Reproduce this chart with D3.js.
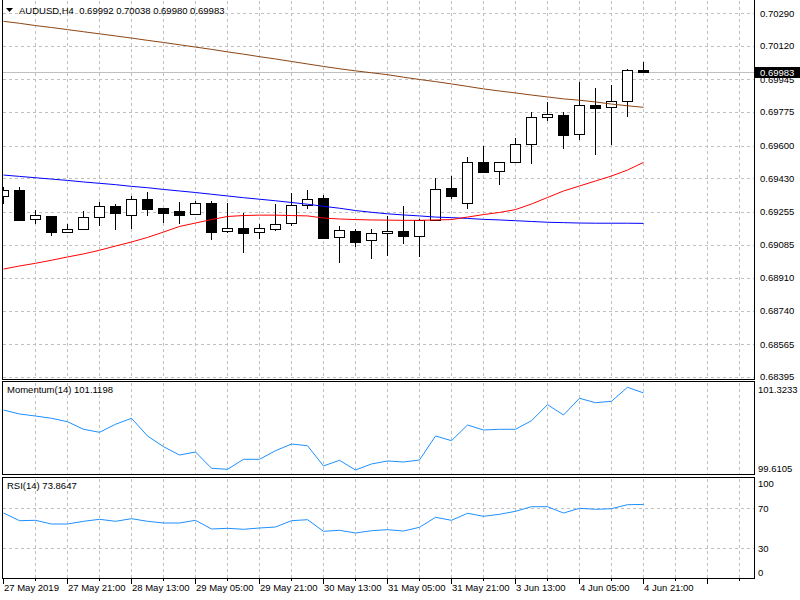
<!DOCTYPE html>
<html lang="en">
<head>
<meta charset="UTF-8">
<title>AUDUSD,H4</title>
<style>
  body { margin: 0; background: #fff; }
  svg { display: block; }
  text { font-family: "Liberation Sans", Arial, sans-serif; font-size: 9.5px; fill: #000; }
</style>
</head>
<body>
<svg id="chart" width="800" height="600"></svg>
<script src="https://d3js.org/d3.v7.min.js"></script>
<script>
// ---- data (H4 bars, 27 May 2019 .. 4 Jun 2019 21:00) ----
const open = [0.69338,0.69369,0.69216,0.69234,0.69152,0.69167,0.69227,0.69286,0.69240,0.69322,
  0.69275,0.69261,0.69242,0.69303,0.69154,0.69169,0.69149,0.69164,0.69196,0.69292,
  0.69326,0.69123,0.69155,0.69107,0.69143,0.69154,0.69131,0.69211,0.69380,0.69300,
  0.69513,0.69467,0.69513,0.69607,0.69748,0.69760,0.69659,0.69812,0.69800,0.69831,0.69992];
const high = [0.69385,0.69386,0.69265,0.69236,0.69192,0.69261,0.69308,0.69296,0.69338,0.69357,
  0.69277,0.69308,0.69312,0.69312,0.69300,0.69248,0.69192,0.69296,0.69352,0.69369,
  0.69343,0.69181,0.69164,0.69164,0.69234,0.69286,0.69216,0.69432,0.69442,0.69541,
  0.69598,0.69515,0.69640,0.69776,0.69828,0.69776,0.69932,0.69901,0.69918,0.70000,0.70038];
const low = [0.69296,0.69210,0.69192,0.69129,0.69143,0.69165,0.69181,0.69161,0.69167,0.69234,
  0.69199,0.69192,0.69240,0.69108,0.69143,0.69042,0.69115,0.69157,0.69181,0.69272,
  0.69117,0.68987,0.69070,0.69008,0.69025,0.69088,0.69021,0.69210,0.69324,0.69272,
  0.69459,0.69397,0.69511,0.69506,0.69729,0.69584,0.69630,0.69552,0.69604,0.69751,0.69980];
const close = [0.69369,0.69213,0.69239,0.69152,0.69166,0.69227,0.69286,0.69248,0.69321,0.69272,
  0.69248,0.69240,0.69301,0.69152,0.69171,0.69143,0.69169,0.69192,0.69289,0.69324,
  0.69119,0.69161,0.69100,0.69143,0.69157,0.69131,0.69211,0.69374,0.69339,0.69513,
  0.69464,0.69513,0.69607,0.69748,0.69764,0.69657,0.69812,0.69798,0.69831,0.69995,0.69983];

// moving averages
const maBrown = [0.70248,0.70238,0.70226,0.70216,0.70205,0.70194,0.70183,0.70172,0.70161,0.70149,
  0.70138,0.70126,0.70114,0.70102,0.70089,0.70077,0.70064,0.70052,0.70039,0.70026,
  0.70013,0.70001,0.69990,0.69980,0.69970,0.69957,0.69945,0.69934,0.69922,0.69909,
  0.69896,0.69885,0.69875,0.69864,0.69854,0.69844,0.69837,0.69828,0.69817,0.69808,0.69800];
const maBlue = [0.69447,0.69440,0.69433,0.69426,0.69419,0.69411,0.69404,0.69397,0.69388,0.69381,
  0.69372,0.69364,0.69356,0.69347,0.69338,0.69329,0.69321,0.69313,0.69304,0.69295,
  0.69284,0.69274,0.69262,0.69253,0.69245,0.69239,0.69234,0.69228,0.69225,0.69221,
  0.69216,0.69213,0.69209,0.69205,0.69201,0.69199,0.69197,0.69196,0.69196,0.69196,0.69195];
const maRed = [0.68957,0.68973,0.68987,0.69003,0.69020,0.69036,0.69055,0.69077,0.69098,0.69122,
  0.69150,0.69179,0.69197,0.69215,0.69231,0.69236,0.69238,0.69238,0.69236,0.69234,
  0.69223,0.69218,0.69215,0.69213,0.69212,0.69211,0.69211,0.69213,0.69215,0.69228,
  0.69241,0.69252,0.69267,0.69296,0.69330,0.69364,0.69390,0.69416,0.69442,0.69473,0.69513];

const momentum = [100.802,100.728,100.690,100.648,100.584,100.443,100.387,100.536,100.648,100.318,
  100.119,99.964,100.020,99.717,99.698,99.884,99.884,100.044,100.169,100.137,
  99.760,99.866,99.685,99.797,99.853,99.834,99.871,100.318,100.231,100.523,
  100.430,100.443,100.443,100.603,100.901,100.709,101.020,100.938,100.964,101.225,101.1198];
const rsi = [65.3,57.6,58.0,54.3,54.3,57.0,59.0,57.0,59.6,57.0,
  55.3,55.3,58.0,49.3,50.0,49.0,50.3,51.3,57.6,58.6,
  47.0,48.0,45.3,47.6,48.6,47.3,51.0,61.0,58.0,65.0,
  62.0,64.0,67.0,71.6,71.6,65.3,70.0,69.0,69.6,73.6,73.8647];

const priceTicks = [0.70290,0.70120,0.69945,0.69775,0.69600,0.69430,0.69255,0.69085,0.68910,0.68740,0.68565,0.68395];
const momTicks = [101.3233, 99.6105];
const rsiTicks = [100, 70, 30, 0];
const rsiLevels = [70, 30];
const timeLabels = ["27 May 2019","27 May 21:00","28 May 13:00","29 May 05:00","29 May 21:00",
  "30 May 13:00","31 May 05:00","31 May 21:00","3 Jun 13:00","4 Jun 05:00","4 Jun 21:00"];
const lastPrice = 0.69983;

// ---- layout ----
const left = 2.5, right = 754.5;
const mainP = { top: 0, bottom: 379.5 };
const momP = { top: 381.5, bottom: 474.5 };
const rsiP = { top: 477.5, bottom: 578.5 };

const svg = d3.select("#chart");
const x = d3.scaleLinear().domain([0, 40]).range([3, 643]);
const yP = d3.scaleLinear().domain([0.68395, 0.70290]).range([376.9, 13.3]);
const yM = d3.scaleLinear().domain([99.6105, 101.3233]).range([474, 382]);
const yR = d3.scaleLinear().domain([0, 100]).range([578.3, 478.3]);
const px = v => Math.round(v) + 0.5;
const fmt5 = d3.format(".5f");

svg.append("rect").attr("width", 800).attr("height", 600).attr("fill", "#fff");

svg.append("clipPath").attr("id", "clipMain")
  .append("rect").attr("x", left).attr("y", 0).attr("width", right - left).attr("height", mainP.bottom);

// vertical grid (every 2 bars) in all panels
const gridIdx = d3.range(2, 47, 2);
const grid = svg.append("g").attr("stroke", "#c0c0c0").attr("stroke-dasharray", "3,3")
  .attr("shape-rendering", "crispEdges");
[mainP, momP, rsiP].forEach(p => {
  grid.selectAll(null).data(gridIdx).enter().append("line")
    .attr("x1", d => px(x(d))).attr("x2", d => px(x(d)))
    .attr("y1", p.top + 1).attr("y2", p.bottom);
});
// horizontal grid main
grid.selectAll(null).data(priceTicks).enter().append("line")
  .attr("x1", left).attr("x2", right)
  .attr("y1", d => px(yP(d))).attr("y2", d => px(yP(d)));
// rsi levels
grid.selectAll(null).data(rsiLevels).enter().append("line")
  .attr("x1", left).attr("x2", right)
  .attr("y1", d => px(yR(d))).attr("y2", d => px(yR(d)));

// current price line
svg.append("line").attr("x1", left).attr("x2", right)
  .attr("y1", px(yP(lastPrice))).attr("y2", px(yP(lastPrice)))
  .attr("stroke", "#c0c0c0").attr("shape-rendering", "crispEdges");

// candles
const bars = open.map((o, i) => ({ i, o, h: high[i], l: low[i], c: close[i] }));
const cg = svg.append("g").attr("clip-path", "url(#clipMain)").attr("shape-rendering", "crispEdges");
cg.selectAll(".wick").data(bars).enter().append("line")
  .attr("x1", d => px(x(d.i))).attr("x2", d => px(x(d.i)))
  .attr("y1", d => Math.round(yP(d.h))).attr("y2", d => Math.round(yP(d.l)))
  .attr("stroke", "#000");
cg.selectAll(".body").data(bars).enter().append("rect")
  .attr("x", d => Math.round(x(d.i)) - 4.5)
  .attr("width", 10)
  .attr("y", d => px(yP(Math.max(d.o, d.c))))
  .attr("height", d => Math.max(1, Math.round(yP(Math.min(d.o, d.c))) - Math.round(yP(Math.max(d.o, d.c)))))
  .attr("fill", d => d.c >= d.o ? "#fff" : "#000")
  .attr("stroke", "#000");

// moving averages
const maLine = arr => d3.line().x((d, i) => x(i) + 0.5).y(d => yP(d))(arr);
[[maBrown, "#8b4513"], [maBlue, "#0000ff"], [maRed, "#ff0000"]].forEach(([arr, col]) => {
  cg.append("path").attr("d", maLine(arr)).attr("fill", "none")
    .attr("stroke", col).attr("stroke-width", 1).attr("shape-rendering", "auto");
});

// momentum & rsi lines
svg.append("path")
  .attr("d", d3.line().x((d, i) => x(i) + 0.5).y(d => yM(d))(momentum))
  .attr("fill", "none").attr("stroke", "#1e90ff").attr("stroke-width", 1);
svg.append("path")
  .attr("d", d3.line().x((d, i) => x(i) + 0.5).y(d => yR(d))(rsi))
  .attr("fill", "none").attr("stroke", "#1e90ff").attr("stroke-width", 1);

// panel frames
const frame = svg.append("g").attr("stroke", "#000").attr("fill", "none").attr("shape-rendering", "crispEdges");
frame.append("path").attr("d", `M${left},0V${mainP.bottom}H${right}V0`);
[momP, rsiP].forEach(p => {
  frame.append("rect").attr("x", left).attr("y", p.top)
    .attr("width", right - left).attr("height", p.bottom - p.top);
});

// price axis labels
svg.selectAll(".ptick").data(priceTicks).enter().append("text")
  .attr("x", 760).attr("y", d => yP(d)).attr("dy", "0.35em").text(d => fmt5(d));

// last price box
const ly = Math.round(yP(lastPrice));
svg.append("rect").attr("x", 755).attr("y", ly - 5).attr("width", 45).attr("height", 11).attr("fill", "#000");
svg.append("text").attr("x", 760).attr("y", ly + 0.5).attr("dy", "0.35em")
  .style("fill", "#fff").text(fmt5(lastPrice));

// momentum labels
svg.selectAll(".mtick").data(momTicks).enter().append("text")
  .attr("x", 758).attr("y", (d, i) => i === 0 ? yM(d) + 8 : yM(d) - 5).attr("dy", "0.35em")
  .text(d => d.toFixed(4));

// rsi labels
svg.selectAll(".rtick").data(rsiTicks).enter().append("text")
  .attr("x", 758)
  .attr("y", d => Math.min(Math.max(yR(d), rsiP.top + 6.5), rsiP.bottom - 6))
  .attr("dy", "0.35em").text(d => d);

// time axis
const timeIdx = timeLabels.map((t, k) => k * 4);
const tg = svg.append("g").attr("stroke", "#000").attr("shape-rendering", "crispEdges");
tg.selectAll(null).data(d3.range(0, 47, 4)).enter().append("line")
  .attr("x1", d => px(x(d))).attr("x2", d => px(x(d)))
  .attr("y1", rsiP.bottom).attr("y2", rsiP.bottom + 5);
tg.selectAll(null).data(d3.range(2, 47, 4)).enter().append("line")
  .attr("x1", d => px(x(d))).attr("x2", d => px(x(d)))
  .attr("y1", rsiP.bottom).attr("y2", rsiP.bottom + 2);
svg.selectAll(".ttick").data(timeLabels).enter().append("text")
  .attr("x", (d, k) => x(timeIdx[k]) + 1).attr("y", 588).attr("dy", "0.35em").text(d => d);

// titles
svg.append("path").attr("d", "M6,8H13L9.5,12Z").attr("fill", "#000");
svg.append("text").attr("x", 19).attr("y", 10.5).attr("dy", "0.35em")
  .attr("xml:space", "preserve")
  .text("AUDUSD,H4  " + [open[40], high[40], low[40], close[40]].map(fmt5).join(" "));
svg.append("text").attr("x", 7).attr("y", 390).attr("dy", "0.35em")
  .text("Momentum(14) " + momentum[40].toFixed(4));
svg.append("text").attr("x", 7).attr("y", 486).attr("dy", "0.35em")
  .text("RSI(14) " + rsi[40].toFixed(4));
</script>
</body>
</html>
